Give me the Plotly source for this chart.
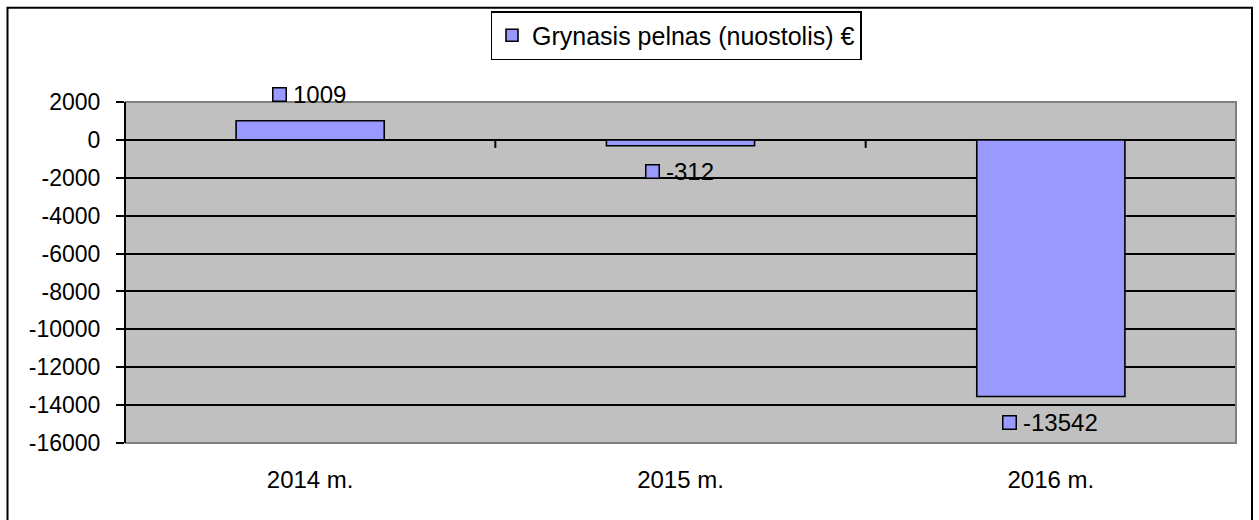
import plotly.graph_objects as go

# ---- data ----
categories = ["2014 m.", "2015 m.", "2016 m."]
values = [1009, -312, -13542]
series_name = "Grynasis pelnas (nuostolis) €"
y_tick_vals = [2000, 0, -2000, -4000, -6000, -8000, -10000, -12000, -14000, -16000]
y_tick_text = ["2000", "0", "-2000", "-4000", "-6000", "-8000", "-10000", "-12000", "-14000", "-16000"]

# ---- layout constants ----
W, H = 1259, 520
ML, MR, MT, MB = 125, 23, 101, 77
PW, PH = W - ML - MR, H - MT - MB
FONT = "Liberation Sans, Arial, sans-serif"
BAR_COLOR = "#9999FF"


def px_x(px):
    return (px - ML) / PW


def px_y(py):
    return 1 - (py - MT) / PH


fig = go.Figure()
fig.add_trace(go.Bar(
    x=categories, y=values, name=series_name,
    marker=dict(color=BAR_COLOR, line=dict(color="black", width=1.6)),
    showlegend=True,
))

annotations = []
shapes = []
LABEL_FONT = 24
for cat, val in zip(categories, values):
    text = str(val)
    # approximate text width (Arial metrics)
    tw = sum((0.333 if ch == "-" else 0.556) for ch in text) * LABEL_FONT
    sq = 15
    gap = 6
    total = sq + gap + tw
    left = -total / 2 - 1
    ysh = 26 if val >= 0 else -26
    annotations.append(dict(
        x=cat, y=val, xref="x", yref="y", text="", showarrow=False,
        width=sq - 3, height=sq - 3, bgcolor=BAR_COLOR, bordercolor="black",
        borderwidth=1.5, borderpad=0, xanchor="center", yanchor="middle",
        xshift=left + sq / 2, yshift=ysh,
    ))
    annotations.append(dict(
        x=cat, y=val, xref="x", yref="y", text=text, showarrow=False,
        font=dict(family=FONT, size=LABEL_FONT, color="black"),
        xanchor="left", yanchor="middle", xshift=left + sq + gap - 2, yshift=ysh,
    ))

# tick marks on the zero line between categories
for b in [0.5, 1.5]:
    shapes.append(dict(
        type="line", xref="x", yref="y", ysizemode="pixel", yanchor=0,
        x0=b, x1=b, y0=0, y1=-8, line=dict(color="black", width=2), layer="above",
    ))

# gray plot-area border on top, right and bottom
shapes.append(dict(
    type="path", xref="paper", yref="paper",
    path="M 0,1 L 1,1 L 1,0 L 0,0", line=dict(color="#808080", width=2), layer="above",
))
# left black axis line
shapes.append(dict(
    type="line", xref="paper", yref="paper", x0=0, x1=0, y0=0, y1=1,
    line=dict(color="black", width=2), layer="above",
))
# outer chart frame
shapes.append(dict(
    type="rect", xref="paper", yref="paper",
    x0=px_x(7.5), x1=px_x(1252), y0=px_y(540), y1=px_y(6.5),
    line=dict(color="black", width=2), fillcolor="rgba(0,0,0,0)", layer="above",
))

fig.update_layout(
    width=W, height=H,
    margin=dict(l=ML, r=MR, t=MT, b=MB, pad=0),
    paper_bgcolor="white",
    plot_bgcolor="#C0C0C0",
    font=dict(family=FONT, size=23, color="black"),
    bargap=0.6,
    showlegend=True,
    legend=dict(
        x=px_x(676), y=px_y(11), xanchor="center", yanchor="top",
        orientation="h", bgcolor="white", bordercolor="black", borderwidth=1.5,
        font=dict(family=FONT, size=25, color="black"),
    ),
    xaxis=dict(
        range=[-0.5, 2.5], showgrid=False, zeroline=False, showline=False,
        ticks="", tickfont=dict(family=FONT, size=24, color="black"),
        ticklabelstandoff=20,
    ),
    yaxis=dict(
        range=[-16000, 2000], tickvals=y_tick_vals, ticktext=y_tick_text,
        showgrid=True, gridcolor="black", gridwidth=1.7,
        zeroline=True, zerolinecolor="black", zerolinewidth=2,
        showline=False, ticks="outside", ticklen=8, tickwidth=1.5, tickcolor="black",
        tickfont=dict(family=FONT, size=23, color="black"),
        ticklabelstandoff=11,
    ),
    annotations=annotations,
    shapes=shapes,
)

fig.write_html(
    "out.html",
    config={"displayModeBar": False},
    post_script="document.body.style.margin='0';document.body.style.overflow='hidden';",
)
